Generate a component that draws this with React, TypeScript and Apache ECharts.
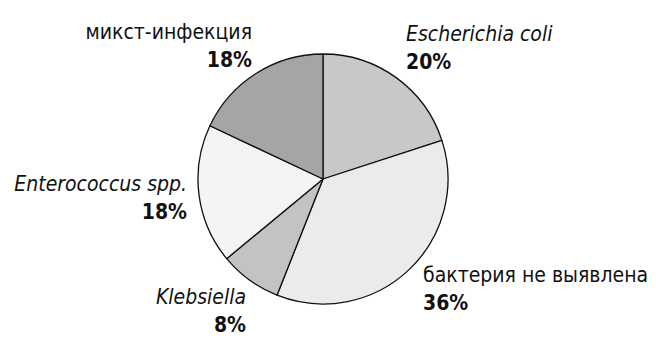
import React, { useEffect, useRef } from "react";
import * as echarts from "echarts";

const categories = [
  "Escherichia coli",
  "бактерия не выявлена",
  "Klebsiella",
  "Enterococcus spp.",
  "микст-инфекция",
];
const values = [20, 36, 8, 18, 18];
const italicNames = [true, false, true, true, false];
const colors = ["#c8c8c8", "#ebebeb", "#c3c3c3", "#f4f4f4", "#a5a5a5"];

// label anchor layout (x, y of top of text block, alignment)
const labelPos: { x: number; y: number; align: "left" | "right" }[] = [
  { x: 406, y: 20, align: "left" },
  { x: 423, y: 261, align: "left" },
  { x: 246, y: 283, align: "right" },
  { x: 187, y: 170, align: "right" },
  { x: 252, y: 18, align: "right" },
];

const FONT = "'DejaVu Sans Condensed', 'DejaVu Sans', sans-serif";

export default function App() {
  const ref = useRef<HTMLDivElement>(null);
  useEffect(() => {
    if (!ref.current) return;
    const chart = echarts.init(ref.current, undefined, { renderer: "svg" });
    chart.setOption({
      animation: false,
      backgroundColor: "#ffffff",
      series: [
        {
          type: "pie",
          center: [323, 179],
          radius: 125,
          startAngle: 90,
          clockwise: true,
          silent: true,
          itemStyle: { borderColor: "#111", borderWidth: 1.3 },
          labelLine: { show: false },
          label: {
            show: true,
            position: "outside",
            overflow: "none",
            edgeDistance: 0,
            bleedMargin: 0,
            formatter: (p: any) =>
              `{${italicNames[p.dataIndex] ? "ital" : "norm"}|${p.name}}\n{pct|${p.value}%}`,
            rich: {
              ital: { fontFamily: FONT, fontSize: 21, fontStyle: "italic", color: "#111", lineHeight: 28 },
              norm: { fontFamily: FONT, fontSize: 21, color: "#111", lineHeight: 28 },
              pct: { fontFamily: FONT, fontSize: 21, fontWeight: "bold", color: "#111", lineHeight: 28 },
            },
          },
          labelLayout: (params: any) => {
            const l = labelPos[params.dataIndex];
            return { x: l.x, y: l.y, align: l.align, verticalAlign: "top", hideOverlap: false };
          },
          data: categories.map((name, i) => ({
            name,
            value: values[i],
            itemStyle: { color: colors[i] },
            label: { align: labelPos[i].align },
          })),
        },
      ],
    });
    return () => chart.dispose();
  }, []);
  return (
    <div
      ref={ref}
      style={{ position: "fixed", left: 0, top: 0, width: 660, height: 350, background: "#fff" }}
    />
  );
}
